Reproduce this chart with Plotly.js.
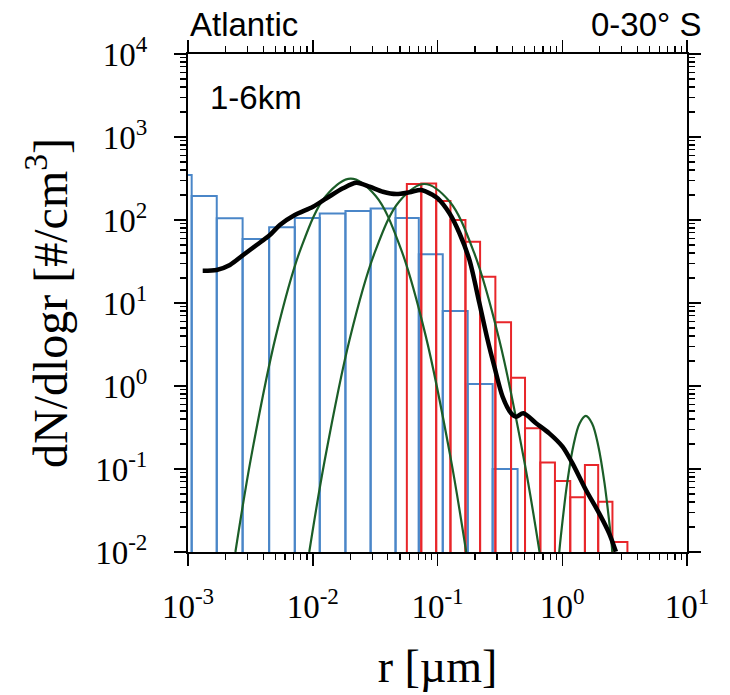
<!DOCTYPE html>
<html>
<head>
<meta charset="utf-8">
<script src="https://cdn.plot.ly/plotly-3.0.1.min.js"></script>
<style>html,body{margin:0;padding:0;background:#fff;}#chart{width:730px;height:695px;}</style>
</head>
<body>
<div id="chart"></div>
<script>
// ---- data (radius in µm, dN/dlogr in #/cm^3) ----
// blue histogram: bin edges and bar heights
var blueEdges = [0.000675, 0.00107, 0.0017, 0.00274, 0.00447, 0.00718, 0.01138, 0.01828, 0.0291, 0.0461, 0.0708, 0.1102, 0.1746, 0.2767, 0.4385];
var blueValues = [348, 195, 105, 59, 82, 106, 120, 128, 138, 106, 38.6, 8.0, 1.06, 0.10];
// red histogram: bin edges and bar heights
var redEdges = [0.0568, 0.0741, 0.0976, 0.127, 0.1675, 0.2195, 0.291, 0.3887, 0.503, 0.667, 0.874, 1.159, 1.519, 1.941, 2.526, 3.33];
var redValues = [272, 275, 169, 100, 54.8, 20.7, 5.85, 1.26, 0.309, 0.12, 0.0716, 0.0456, 0.112, 0.0403, 0.0131];
// black smoothed size distribution
var blackR = [0.001312, 0.001698, 0.002168, 0.002767, 0.003548, 0.004529, 0.005445, 0.007178, 0.01005, 0.01288, 0.01746, 0.02239, 0.02858, 0.03648, 0.04677, 0.0597, 0.07413, 0.09162, 0.1005, 0.1247, 0.15, 0.1803, 0.2168, 0.2523, 0.2858, 0.3327, 0.389, 0.4266, 0.4875, 0.6166, 0.787, 1.005, 1.208, 1.549, 1.977, 2.377, 2.692];
var blackN = [24.5, 25.0, 28.7, 37.8, 50.0, 65.9, 87.1, 114.8, 144.5, 182.4, 241, 281, 252, 219, 205, 216, 230, 200, 182, 120.5, 69.2, 33.0, 9.91, 3.58, 1.71, 0.743, 0.469, 0.427, 0.469, 0.356, 0.269, 0.186, 0.117, 0.0558, 0.0292, 0.0168, 0.0101];
// green fitted modes
var mode1R = [0.002399, 0.003199, 0.00507, 0.008035, 0.01274, 0.02018, 0.03199, 0.0507, 0.08035, 0.1274, 0.1698];
var mode1N = [0.01, 0.1361, 4.046, 45.6, 195, 316, 195, 45.6, 4.046, 0.1361, 0.01];
var mode2R = [0.009376, 0.01245, 0.01972, 0.03126, 0.04955, 0.07852, 0.1245, 0.1972, 0.3126, 0.4955, 0.6577];
var mode2N = [0.01, 0.1256, 3.614, 39.8, 168.3, 271.6, 168.3, 39.8, 3.614, 0.1256, 0.01];
var mode3R = [0.9462, 0.975, 1.094, 1.227, 1.377, 1.545, 1.734, 1.945, 2.183, 2.449, 2.523];
var mode3N = [0.01, 0.01563, 0.067, 0.1897, 0.354, 0.4355, 0.354, 0.1897, 0.067, 0.01563, 0.01];
// tick labels
var xTickVals = [0.001, 0.01, 0.1, 1, 10];
var xTickText = ['10<sup>-3</sup>', '10<sup>-2</sup>', '10<sup>-1</sup>', '10<sup>0</sup>', '10<sup>1</sup>'];
var yTickVals = [0.01, 0.1, 1, 10, 100, 1000, 10000];
var yTickText = ['10<sup>-2</sup>', '10<sup>-1</sup>', '10<sup>0</sup>', '10<sup>1</sup>', '10<sup>2</sup>', '10<sup>3</sup>', '10<sup>4</sup>'];

function minorTicks(d0, d1) {
  var v = [];
  for (var d = d0; d < d1; d++) for (var m = 2; m <= 9; m++) v.push(m * Math.pow(10, d));
  return v;
}
function barTrace(edges, vals, color) {
  var x = [], w = [];
  for (var i = 0; i < vals.length; i++) { x.push(edges[i]); w.push(edges[i + 1] - edges[i]); }
  return {
    type: 'bar', x: x, y: vals, width: w, offset: 0, base: 0.0001,
    marker: {color: 'rgba(0,0,0,0)', line: {color: color, width: 2}},
    hoverinfo: 'skip', showlegend: false
  };
}
var GREEN = '#1b5e28';
var traces = [
  barTrace(blueEdges, blueValues, '#4a86c8'),
  barTrace(redEdges, redValues, '#e8262a'),
  {type: 'scatter', mode: 'lines', x: mode1R, y: mode1N, line: {color: GREEN, width: 2.2, shape: 'spline', smoothing: 1}, showlegend: false},
  {type: 'scatter', mode: 'lines', x: mode2R, y: mode2N, line: {color: GREEN, width: 2.2, shape: 'spline', smoothing: 1}, showlegend: false},
  {type: 'scatter', mode: 'lines', x: mode3R, y: mode3N, line: {color: GREEN, width: 2.2, shape: 'spline', smoothing: 1}, showlegend: false},
  {type: 'scatter', mode: 'lines', x: blackR, y: blackN, line: {color: '#000', width: 4.5, shape: 'spline', smoothing: 0.8}, showlegend: false}
];
var serif = 'Liberation Serif, Times New Roman, serif';
var sans = 'Liberation Sans, Arial, sans-serif';
var layout = {
  width: 730, height: 695,
  margin: {l: 188, r: 43, t: 54, b: 143},
  paper_bgcolor: '#fff', plot_bgcolor: '#fff',
  barmode: 'overlay', showlegend: false,
  xaxis: {
    type: 'log', range: [-3, 1], showgrid: false, zeroline: false,
    showline: true, linecolor: '#000', linewidth: 2, mirror: 'allticks',
    ticks: 'outside', ticklen: 12, tickwidth: 1.5, tickcolor: '#000',
    tickmode: 'array', tickvals: xTickVals, ticktext: xTickText,
    ticklabelstandoff: 12,
    tickfont: {family: serif, size: 33, color: '#000'},
    minor: {tickmode: 'array', tickvals: minorTicks(-3, 1), ticks: 'outside', ticklen: 6, tickwidth: 1.2, tickcolor: '#000', showgrid: false},
    title: {text: 'r [µm]', font: {family: serif, size: 46, color: '#000'}, standoff: 26}
  },
  yaxis: {
    type: 'log', range: [-2, 4], showgrid: false, zeroline: false,
    showline: true, linecolor: '#000', linewidth: 2, mirror: 'allticks',
    ticks: 'outside', ticklen: 12, tickwidth: 1.5, tickcolor: '#000',
    tickmode: 'array', tickvals: yTickVals, ticktext: yTickText,
    ticklabelstandoff: 20,
    tickfont: {family: serif, size: 33, color: '#000'},
    minor: {tickmode: 'array', tickvals: minorTicks(-2, 4), ticks: 'outside', ticklen: 6, tickwidth: 1.2, tickcolor: '#000', showgrid: false},
    title: {text: 'dN/dlogr [#/cm<sup>3</sup>]', font: {family: serif, size: 48, color: '#000'}, standoff: 12}
  },
  annotations: [
    {text: 'Atlantic', xref: 'paper', yref: 'paper', x: 0, y: 1.06, xanchor: 'left', yanchor: 'middle', showarrow: false, font: {family: sans, size: 33, color: '#000'}},
    {text: '0-30° S', xref: 'paper', yref: 'paper', x: 1.032, y: 1.06, xanchor: 'right', yanchor: 'middle', showarrow: false, font: {family: sans, size: 33, color: '#000'}},
    {text: '1-6km', xref: 'paper', yref: 'paper', x: 0.04, y: 0.912, xanchor: 'left', yanchor: 'middle', showarrow: false, font: {family: sans, size: 33, color: '#000'}}
  ]
};
Plotly.newPlot('chart', traces, layout, {staticPlot: true, displayModeBar: false});
</script>
</body>
</html>
